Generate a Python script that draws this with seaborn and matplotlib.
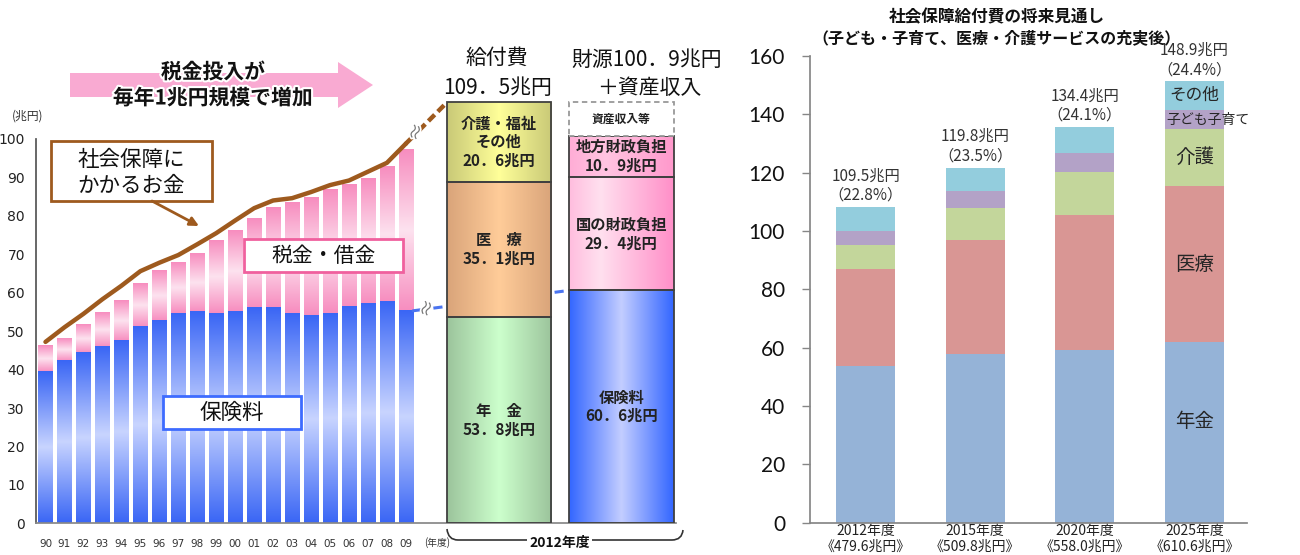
import numpy as np
import pandas as pd
import matplotlib
matplotlib.use("Agg")
import matplotlib.pyplot as plt
import matplotlib.patheffects as pe
from matplotlib.colors import LinearSegmentedColormap
from matplotlib.patches import Rectangle, Polygon, PathPatch
from matplotlib.path import Path
import seaborn as sns

# ── Style ─────────────────────────────────────────────────────
sns.set_theme(style="white")
plt.rcParams['font.family'] = ['Noto Sans CJK JP', 'DejaVu Sans']
NARROW = ['Liberation Sans Narrow', 'DejaVu Sans']

# ── Data: left chart (1990-2009) ──────────────────────────────
years = ['90', '91', '92', '93', '94', '95', '96', '97', '98', '99',
         '00', '01', '02', '03', '04', '05', '06', '07', '08', '09']
hoken = [39.4, 42.3, 44.3, 46.0, 47.5, 51.2, 52.7, 54.6, 55.0, 54.6,
         55.0, 56.1, 56.0, 54.6, 53.9, 54.6, 56.3, 57.0, 57.6, 55.3]
revenue_total = [46.4, 48.2, 51.8, 55.0, 58.1, 62.5, 65.9, 67.7, 70.3, 73.4,
                 76.3, 79.5, 82.1, 83.3, 84.8, 86.8, 88.2, 89.7, 92.8, 97.2]
kyufu = [47.2, 51.0, 54.5, 58.3, 61.8, 65.6, 67.8, 69.8, 72.6, 75.5,
         78.8, 82.0, 84.0, 84.6, 86.2, 88.0, 89.2, 91.5, 93.8, 98.8]

# 2012 breakdown
kyufu_2012_labels = ['年　金\n53．8兆円', '医　療\n35．1兆円', '介護・福祉\nその他\n20．6兆円']
kyufu_2012 = [53.8, 35.1, 20.6]
zaigen_2012_labels = ['保険料\n60．6兆円', '国の財政負担\n29．4兆円', '地方財政負担\n10．9兆円']
zaigen_2012 = [60.6, 29.4, 10.9]

# ── Data: right chart (future outlook) ────────────────────────
fut_years = ['2012年度\n《479.6兆円》', '2015年度\n《509.8兆円》',
             '2020年度\n《558.0兆円》', '2025年度\n《610.6兆円》']
seg_names = ['年金', '医療', '介護', '子ども子育て', 'その他']
nenkin = [53.8, 58.0, 59.1, 61.9]
iryo = [33.1, 39.0, 46.5, 53.4]
kaigo = [8.2, 10.9, 14.6, 19.6]
kodomo = [5.0, 5.7, 6.6, 6.6]
sonota = [8.2, 8.1, 8.9, 9.8]
fut_total = ['109.5兆円', '119.8兆円', '134.4兆円', '148.9兆円']
fut_share = ['（22.8%）', '（23.5%）', '（24.1%）', '（24.4%）']

# ── Colours ───────────────────────────────────────────────────
BLUE_D, BLUE_L = '#3A66F5', '#C8D4FF'
PINK_D, PINK_L = '#F78DBF', '#FDE2EF'
BROWN = '#9E5A1E'
KYUFU_C = [('#9CC49C', '#CCFFCC'), ('#D9A47A', '#FFCC99'), ('#C9C977', '#FFFF99')]
ZAIGEN_C = [('#3366FF', '#C3CDFF'), ('#FF8FC8', '#FFE0EF'), ('#FF99CC', '#FFC4E1')]
SEG_C = ['#95B3D7', '#D99694', '#C3D69B', '#B3A2C7', '#93CDDD']

W, H = 1300, 555
fig = plt.figure(figsize=(13, 5.55), dpi=100)
fig.patch.set_facecolor('white')


def px_axes(l, t, r, b):
    return fig.add_axes([l / W, 1 - b / H, (r - l) / W, (b - t) / H])


def grad(ax, x0, x1, y0, y1, dark, light, vertical=True, center=0.5, z=2):
    t = np.linspace(0, 1, 200)
    v = np.abs(t - center) / max(center, 1 - center)
    arr = v.reshape(-1, 1) if vertical else v.reshape(1, -1)
    cmap = LinearSegmentedColormap.from_list('g', [light, dark])
    ax.imshow(arr, extent=[x0, x1, y0, y1], origin='lower', aspect='auto',
              cmap=cmap, vmin=0, vmax=1, zorder=z, interpolation='bilinear')


# ── Left chart ────────────────────────────────────────────────
ax = px_axes(36, 40, 676, 523.3)
xpos = np.arange(len(years))
sns.barplot(x=xpos, y=revenue_total, native_scale=True, orient='x', color=PINK_D,
            width=0.76, saturation=1, linewidth=0, errorbar=None, ax=ax)
sns.barplot(x=xpos, y=hoken, native_scale=True, orient='x', color=BLUE_D,
            width=0.76, saturation=1, linewidth=0, errorbar=None, ax=ax)
for p, hk in zip(ax.containers[0], hoken):
    grad(ax, p.get_x(), p.get_x() + p.get_width(), hk, p.get_height(), PINK_D, PINK_L)
for p in ax.containers[1]:
    grad(ax, p.get_x(), p.get_x() + p.get_width(), 0, p.get_height(), BLUE_D, BLUE_L)

# 2012 bars
KX, ZX, BW = 23.91, 30.36, 5.5
kb = np.concatenate([[0], np.cumsum(kyufu_2012)[:-1]])
zb = np.concatenate([[0], np.cumsum(zaigen_2012)[:-1]])
kbars = ax.bar([KX] * 3, kyufu_2012, bottom=kb, width=BW, color='none',
               edgecolor='#404040', linewidth=1.3, zorder=3)
zbars = ax.bar([ZX] * 3, zaigen_2012, bottom=zb, width=BW, color='none',
               edgecolor='#404040', linewidth=1.3, zorder=3)
for p, (d, l) in zip(kbars, KYUFU_C):
    grad(ax, p.get_x(), p.get_x() + p.get_width(), p.get_y(), p.get_y() + p.get_height(),
         d, l, vertical=False)
for p, (d, l), c in zip(zbars, ZAIGEN_C, [0.5, 0.3, 0.35]):
    grad(ax, p.get_x(), p.get_x() + p.get_width(), p.get_y(), p.get_y() + p.get_height(),
         d, l, vertical=False, center=c)
# 資産収入等 (dashed box)
ax.bar([ZX], [sum(kyufu_2012) - sum(zaigen_2012)], bottom=[sum(zaigen_2012)],
       width=BW, color='white', edgecolor='#999999', linestyle=(0, (3, 2)),
       linewidth=1.3, zorder=3)
ax.text(ZX, sum(zaigen_2012) + (sum(kyufu_2012) - sum(zaigen_2012)) / 2, '資産収入等',
        ha='center', va='center', fontsize=8.5, fontweight='bold', color='#222', zorder=5)
for lab, b, h in zip(kyufu_2012_labels, kb, kyufu_2012):
    ax.text(KX, b + h / 2, lab, ha='center', va='center', fontsize=11, fontweight='bold',
            linespacing=1.2, color='#222', zorder=5)
for lab, b, h in zip(zaigen_2012_labels, zb, zaigen_2012):
    ax.text(ZX, b + h / 2, lab, ha='center', va='center', fontsize=11, fontweight='bold',
            linespacing=1.2, color='#222', zorder=5)

# benefit line
ax.plot(xpos, kyufu, color=BROWN, lw=3.2, zorder=4, solid_capstyle='round')


def connector(p0, p1, color, lw, t_solid, t_break, t_dash, dash, z):
    p0, p1 = np.array(p0), np.array(p1)
    pt = lambda t: p0 + (p1 - p0) * t
    a, b = pt(0), pt(t_solid)
    ax.plot([a[0], b[0]], [a[1], b[1]], color=color, lw=lw, zorder=4, solid_capstyle='round')
    c, d = pt(t_dash), pt(1)
    ax.plot([c[0], d[0]], [c[1], d[1]], color=color, lw=lw, zorder=z, linestyle=dash)
    m = pt(t_break)
    ax.text(m[0], m[1], '≈', rotation=70, fontsize=13, color='#777777', ha='center',
            va='center', zorder=6,
            path_effects=[pe.withStroke(linewidth=2.5, foreground='white')])


connector((xpos[-1], kyufu[-1]), (KX - BW / 2, sum(kyufu_2012)), BROWN, 3.2,
          0.22, 0.27, 0.32, (0, (2, 1)), 4)
connector((xpos[-1] + 0.38, hoken[-1]), (ZX - BW / 2, zaigen_2012[0]), '#4A74F0', 2.2,
          0.06, 0.095, 0.13, (0, (3, 2)), 1.5)

ax.set_xlim(-0.5, 33.24)
ax.set_ylim(0, 125.76)
ax.set_yticks(np.arange(0, 101, 10))
ax.set_xticks(xpos)
ax.set_xticklabels(years)
ax.set_xlabel('')
ax.set_ylabel('')
for s in ['top', 'right']:
    ax.spines[s].set_visible(False)
ax.spines['left'].set_bounds(0, 100)
ax.spines['left'].set_color('#555555')
ax.spines['bottom'].set_color('#888888')
ax.tick_params(axis='y', length=0, pad=8, labelsize=10, labelcolor='#222')
ax.tick_params(axis='x', length=0, pad=11, labelsize=7.5, labelcolor='#333')
for lab in ax.get_yticklabels() + ax.get_xticklabels():
    lab.set_family(NARROW)

# ── Right chart ───────────────────────────────────────────────
ax2 = px_axes(810, 56, 1247, 522.7)
df = pd.DataFrame({'year': fut_years, '年金': nenkin, '医療': iryo, '介護': kaigo,
                   '子ども子育て': kodomo, 'その他': sonota})
cum = df[seg_names].cumsum(axis=1)
fx = np.arange(len(fut_years))
for name, col in reversed(list(zip(seg_names, SEG_C))):
    sns.barplot(x=fx, y=cum[name].values, native_scale=True, orient='x', color=col,
                width=0.54, saturation=1, linewidth=0, errorbar=None, ax=ax2)
tops = cum['その他'].values
for i, (tt, sh) in enumerate(zip(fut_total, fut_share)):
    ax2.text(i, tops[i] + 1.0, f'{tt}\n{sh}', ha='center', va='bottom', fontsize=11,
             linespacing=1.2, color='#333333')
i = len(fut_years) - 1
lows = cum.iloc[i].values - df[seg_names].iloc[i].values
mids = lows + df[seg_names].iloc[i].values / 2
ax2.text(i, lows[0] + nenkin[i] * 0.56, '年金', ha='center', va='center', fontsize=14, color='#262626')
ax2.text(i, mids[1], '医療', ha='center', va='center', fontsize=14, color='#262626')
ax2.text(i, mids[2], '介護', ha='center', va='center', fontsize=14, color='#262626')
ax2.text(i - 0.26, mids[3], '子ども子育て', ha='left', va='center', fontsize=10, color='#262626')
ax2.text(i, mids[4], 'その他', ha='center', va='center', fontsize=12, color='#262626')

ax2.set_xlim(-0.507, 3.48)
ax2.set_ylim(0, 160)
ax2.set_yticks(np.arange(0, 161, 20))
ax2.set_xticks(fx)
ax2.set_xticklabels(fut_years)
ax2.set_xlabel('')
ax2.set_ylabel('')
for s in ['top', 'right']:
    ax2.spines[s].set_visible(False)
for s in ['left', 'bottom']:
    ax2.spines[s].set_color('#868686')
ax2.tick_params(axis='y', left=True, length=6, width=1, color='#868686', pad=12,
                labelsize=15, labelcolor='#111')
ax2.tick_params(axis='x', length=0, pad=1, labelsize=10, labelcolor='#222')
for lab in ax2.get_xticklabels():
    lab.set_linespacing(1.15)
for lab in ax2.get_yticklabels():
    lab.set_family(['Lato', 'DejaVu Sans'])

# ── Overlay annotations (pixel coordinates) ───────────────────
ov = fig.add_axes([0, 0, 1, 1])
ov.set_xlim(0, W)
ov.set_ylim(H, 0)
ov.axis('off')

ov.add_patch(Polygon([(70, 73), (338, 73), (338, 62), (373, 85), (338, 108), (338, 97), (70, 97)],
                     closed=True, facecolor='#F9AAD2', edgecolor='none'))
glow = [pe.withStroke(linewidth=3, foreground='white')]
ov.text(213, 72, '税金投入が', ha='center', va='center', fontsize=15, fontweight='bold',
        color='#111', path_effects=glow)
ov.text(213, 98, '毎年1兆円規模で増加', ha='center', va='center', fontsize=15,
        fontweight='bold', color='#111', path_effects=glow)
ov.text(28, 116, '(兆円)', ha='center', va='center', fontsize=8.5, color='#333')

ov.text(497, 58, '給付費', ha='center', va='center', fontsize=15, color='#111')
ov.text(498, 88, '109．5兆円', ha='center', va='center', fontsize=15, color='#111')
ov.text(647, 60, '財源100．9兆円', ha='center', va='center', fontsize=15, color='#111')
ov.text(649, 88, '＋資産収入', ha='center', va='center', fontsize=15, color='#111')

ov.add_patch(Rectangle((51, 141), 161, 60, facecolor='white', edgecolor=BROWN, lw=2))
ov.text(131.5, 160, '社会保障に', ha='center', va='center', fontsize=15.5, color='#111')
ov.text(131.5, 186, 'かかるお金', ha='center', va='center', fontsize=15.5, color='#111')
ov.annotate('', xy=(199, 226), xytext=(152, 201),
            arrowprops=dict(arrowstyle='-|>', color=BROWN, lw=2, mutation_scale=13,
                            shrinkA=0, shrinkB=0))
ov.add_patch(Rectangle((244, 239), 159, 33, facecolor='white', edgecolor='#F0609E', lw=2))
ov.text(323.5, 255.5, '税金・借金', ha='center', va='center', fontsize=15, color='#111')
ov.add_patch(Rectangle((163, 396), 138, 33, facecolor='white', edgecolor='#3D6BFF', lw=2))
ov.text(232, 412.5, '保険料', ha='center', va='center', fontsize=15.5, color='#111')

ov.text(437, 543, '(年度)', ha='center', va='center', fontsize=7, color='#333')

brace = Path([(447, 529), (448, 540), (458, 540), (527, 540)],
             [Path.MOVETO, Path.CURVE3, Path.CURVE3, Path.LINETO])
brace2 = Path([(592, 540), (672, 540), (682, 540), (683, 530)],
              [Path.MOVETO, Path.LINETO, Path.CURVE3, Path.CURVE3])
for pth in (brace, brace2):
    ov.add_patch(PathPatch(pth, facecolor='none', edgecolor='#333333', lw=1.2))
ov.text(560, 543, '2012年度', ha='center', va='center', fontsize=10, fontweight='bold',
        color='#111')

ov.text(997, 17, '社会保障給付費の将来見通し', ha='center', va='center', fontsize=12,
        fontweight='bold', color='#111')
ov.text(997, 38, '（子ども・子育て、医療・介護サービスの充実後）', ha='center', va='center',
        fontsize=11.5, fontweight='bold', color='#111')

fig.savefig('out.png', dpi=100, facecolor='white')
